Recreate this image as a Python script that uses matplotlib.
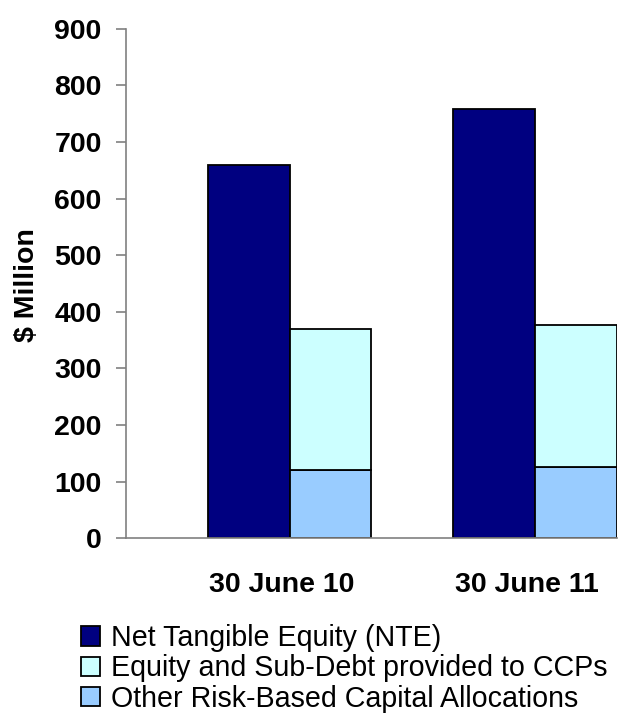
import numpy as np
import matplotlib
matplotlib.use('Agg')
import matplotlib.pyplot as plt

plt.rcParams['font.family'] = ['Liberation Sans', 'DejaVu Sans']

# data ($ million)
categories = ['30 June 10', '30 June 11']
nte = [660, 758]
ccp_equity = [250, 251]
other_risk = [120, 126]
yticks = [0, 100, 200, 300, 400, 500, 600, 700, 800, 900]

fig = plt.figure(figsize=(6.2, 7.13), dpi=100)
ax = fig.add_axes([0.2032, 0.245, 0.7918, 0.7147])

x = np.arange(len(categories))
w = 1 / 3.0
edge = dict(edgecolor='black', linewidth=1.3)

b1 = ax.bar(x + w, nte, width=w, align='edge', color='#000080', **edge)
b3 = ax.bar(x + 2 * w, other_risk, width=w, align='edge', color='#99CCFF', **edge)
b2 = ax.bar(x + 2 * w, ccp_equity, width=w, align='edge', bottom=other_risk,
            color='#CCFFFF', **edge)

ax.set_xlim(0, 2)
ax.set_ylim(0, 900)
ax.set_yticks(yticks)
ax.set_yticklabels([str(v) for v in yticks], fontsize=20.5, fontweight='bold')
ax.set_xticks(x + 0.635)
ax.set_xticklabels(categories, fontsize=20.5, fontweight='bold')

for s in ['top', 'right']:
    ax.spines[s].set_visible(False)
for s in ['left', 'bottom']:
    ax.spines[s].set_color('#808080')
    ax.spines[s].set_linewidth(1.2)
ax.tick_params(axis='y', direction='out', length=7.5, width=1.2, color='#808080', pad=10)
ax.tick_params(axis='x', length=0, pad=24)

fig.text(27 / 620, 1 - 285 / 713, '$ Million', rotation=90, ha='center', va='center',
         fontsize=20.5, fontweight='bold')

fig.legend([b1, b2, b3],
           ['Net Tangible Equity (NTE)', 'Equity and Sub-Debt provided to CCPs',
            'Other Risk-Based Capital Allocations'],
           loc='upper left', bbox_to_anchor=(81 / 620, 1 - 624 / 713),
           frameon=False, fontsize=20.6, borderpad=0, borderaxespad=0,
           handlelength=0.66, handleheight=0.66, handletextpad=0.4, labelspacing=0.08)

fig.savefig('out.png', dpi=100)
